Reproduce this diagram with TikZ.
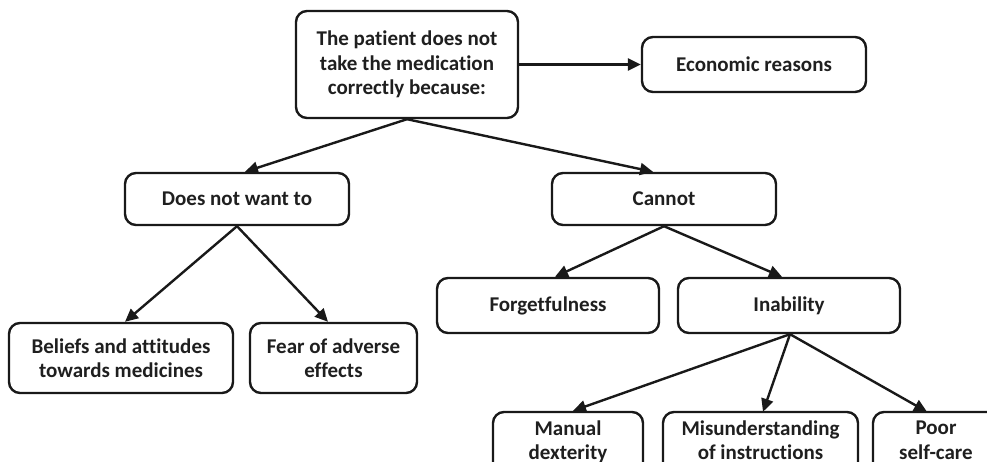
\documentclass[tikz,border=0pt]{standalone}
\usepackage{fontspec}
\setmainfont{Carlito}[Ligatures=NoCommon]
\usetikzlibrary{arrows.meta}
\begin{document}
\begin{tikzpicture}[x=1pt,y=-1pt,
  box/.style={draw=black!90, line width=2.4pt, rounded corners=11pt, fill=white,
    align=center, inner sep=0pt, font=\fontsize{21}{24.5}\selectfont\bfseries,
    text=black!88},
  link/.style={line width=2.4pt, draw=black!90,
    -{Triangle[length=13pt,width=12pt]}}]
\useasboundingbox (0,0) rectangle (987,462);
\clip (0,0) rectangle (987,462);

% root and first level
\node[box, minimum width=222pt, minimum height=107pt] (root) at (407,64.5)
  {The patient does not\\take the medication\\correctly because:};
\node[box, minimum width=224pt, minimum height=55pt] (econ) at (754,64.5) {Economic reasons};
\node[box, minimum width=224pt, minimum height=52pt] (notwant) at (237,199) {Does not want to};
\node[box, minimum width=224pt, minimum height=52pt] (cannot) at (664,199) {Cannot};

% second level
\node[box, minimum width=224pt, minimum height=70pt] (beliefs) at (121,358)
  {Beliefs and attitudes\\towards medicines};
\node[box, minimum width=167pt, minimum height=70pt] (fear) at (333.5,358)
  {Fear of adverse\\effects};
\node[box, minimum width=222pt, minimum height=55pt] (forget) at (548,305.5) {Forgetfulness};
\node[box, minimum width=222pt, minimum height=55pt] (inab) at (789,305.5) {Inability};

% third level (runs past the lower edge)
\node[box, minimum width=150pt, minimum height=88pt] (manual) at (568,456)
  {Manual\\dexterity\\\strut};
\node[box, minimum width=195pt, minimum height=88pt] (misund) at (760.5,456)
  {Misunderstanding\\of instructions\\\strut};
\node[box, minimum width=126pt, minimum height=88pt] (poor) at (936,456)
  {Poor\\self-care\\\strut};

% connectors
\draw[link] (root.east) -- (econ.west);
\draw[link] (root.south) -- ([xshift=8pt]notwant.north);
\draw[link] (root.south) -- ([xshift=-11pt]cannot.north);
\draw[link] (notwant.south) -- ([xshift=4pt]beliefs.north);
\draw[link] (notwant.south) -- ([xshift=-5.5pt]fear.north);
\draw[link] (cannot.south) -- ([xshift=7pt]forget.north);
\draw[link] (cannot.south) -- ([xshift=-7pt]inab.north);
\draw[link] ([xshift=1pt]inab.south) -- ([xshift=5pt]manual.north);
\draw[link] ([xshift=1pt]inab.south) -- ([xshift=2.5pt,yshift=-1pt]misund.north);
\draw[link] ([xshift=1pt]inab.south) -- ([xshift=-9pt,yshift=-1pt]poor.north);
\end{tikzpicture}
\end{document}
